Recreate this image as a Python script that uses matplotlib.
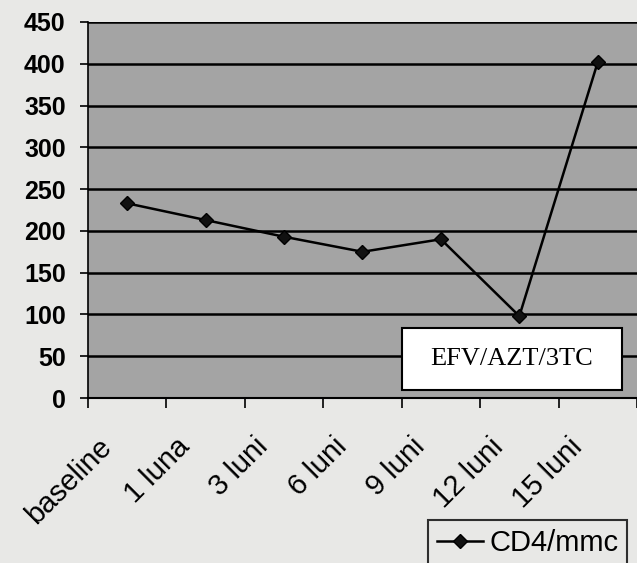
import numpy as np
import matplotlib.pyplot as plt
import matplotlib.transforms as mtransforms
from matplotlib.patches import Rectangle

# =========================
# Data
# =========================
categories = ["baseline", "1 luna", "3 luni", "6 luni", "9 luni", "12 luni", "15 luni"]
cd4_values = [233, 213, 193, 175, 190, 98, 402]
y_ticks = [0, 50, 100, 150, 200, 250, 300, 350, 400, 450]
series_label = "CD4/mmc"
regimen_label = "EFV/AZT/3TC"

# =========================
# Figure
# =========================
fig = plt.figure(figsize=(6.37, 5.63), dpi=100, facecolor="#e8e8e6")
ax = fig.add_axes([0.138, 0.293, 0.862, 0.668])
ax.set_facecolor("#a4a4a4")

x = np.arange(len(categories))
line, = ax.plot(x, cd4_values, color="black", linewidth=1.8,
                marker="D", markersize=7, markerfacecolor="#111111",
                markeredgecolor="black", label=series_label, zorder=3)

# y axis
ax.set_ylim(0, 450)
ax.set_yticks(y_ticks)
ax.set_yticklabels([str(v) for v in y_ticks], fontfamily="Liberation Sans",
                   fontweight="bold", fontsize=18)
ax.yaxis.grid(True, color="black", linewidth=1.8)
ax.tick_params(axis="y", length=6, width=1.2, pad=10, color="black")

# x axis: labels at category centres, tick marks at the boundaries
ax.set_xlim(-0.5, len(categories) - 0.5)
ax.set_xticks(x)
ax.set_xticklabels(categories, rotation=45, ha="right", va="center",
                   rotation_mode="anchor", fontfamily="Liberation Sans",
                   fontsize=21)
ax.set_xticks(np.arange(len(categories) + 1) - 0.5, minor=True)
ax.tick_params(axis="x", which="major", length=0, pad=32)
ax.tick_params(axis="x", which="minor", length=7, width=1.2, color="black")
offset = mtransforms.ScaledTranslation(-20 / 100, 0, fig.dpi_scale_trans)
for lbl in ax.get_xticklabels():
    lbl.set_transform(lbl.get_transform() + offset)

ax.set_axisbelow(True)
for side in ["top", "right"]:
    ax.spines[side].set_visible(False)
ax.spines["left"].set_linewidth(1.2)
ax.spines["bottom"].set_linewidth(1.5)

# regimen box
ax.add_patch(Rectangle((0.572, 0.021), 0.401, 0.165, transform=ax.transAxes,
                       facecolor="white", edgecolor="black", linewidth=1.5,
                       zorder=4))
ax.text(0.772, 0.104, regimen_label, transform=ax.transAxes,
        ha="center", va="center", fontfamily="Liberation Serif", fontsize=19,
        zorder=5)

# legend at bottom right
leg = fig.legend(handles=[line], loc="upper left",
                 bbox_to_anchor=(428 / 637, 1 - 520 / 563),
                 frameon=True, fancybox=False, borderaxespad=0,
                 prop={"family": "Liberation Sans", "size": 21},
                 handlelength=1.6, handletextpad=0.2, borderpad=0.3)
leg.get_frame().set_edgecolor("black")
leg.get_frame().set_linewidth(1.5)
leg.get_frame().set_facecolor("#e8e8e6")

fig.savefig("out.png", dpi=100, facecolor=fig.get_facecolor())
